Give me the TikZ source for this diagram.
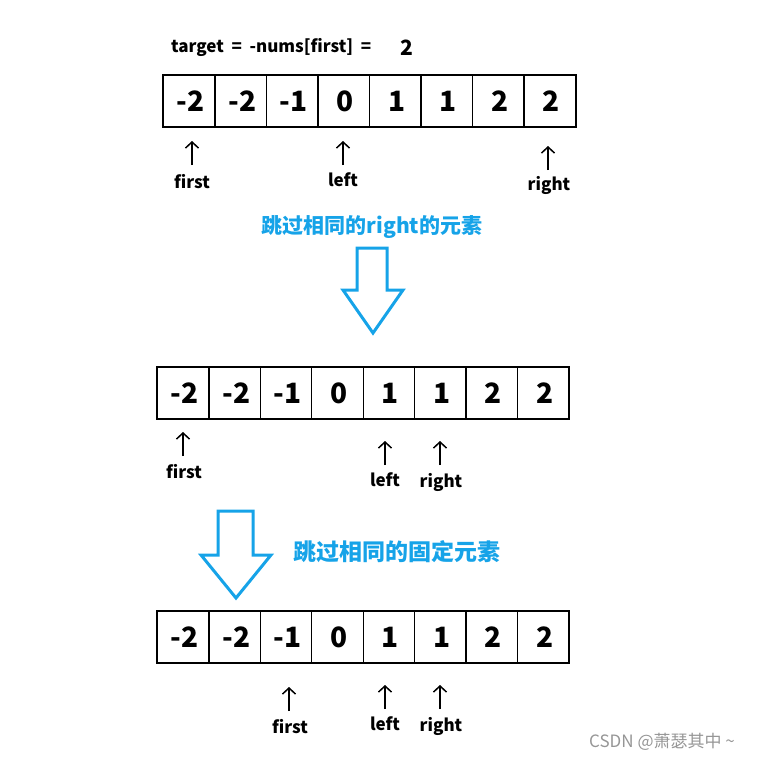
\documentclass[tikz,border=0pt]{standalone}
\usepackage{fontspec}
\setmainfont{Noto Sans CJK SC}
\usetikzlibrary{arrows.meta}
\definecolor{skyb}{RGB}{22,163,232}
\definecolor{wmgray}{RGB}{150,150,150}
\begin{document}
\begin{tikzpicture}[x=1pt,y=-1pt,
  cell/.style={draw,line width=1.2pt,minimum width=51.4pt,minimum height=51pt,inner sep=0pt,anchor=north west,font=\bfseries\fontsize{28}{28}\selectfont},
  frame/.style={draw,line width=2pt},
  ptr/.style={-{Straight Barb[length=6pt,width=13pt,line width=1.5pt]},line width=1.5pt},
  lbl/.style={font=\bfseries\fontsize{17}{17}\selectfont,inner sep=0pt},
  bigarrow/.style={draw=skyb,line width=3pt,line join=miter,fill=white},
  note/.style={text=skyb,inner sep=0pt}]
\useasboundingbox (0,0) rectangle (763,761);

% title
\node[anchor=west,font=\bfseries\fontsize{17}{17}\selectfont,inner sep=0pt] (title) at (171,47) {\spaceskip=0.45em target = -nums[first] =};
\node[font=\bfseries\fontsize{21}{21}\selectfont,inner sep=0pt] (tval) at (407,48) {2};

% array 1
\foreach \v [count=\i] in {-2,-2,-1,0,1,1,2,2}
  \node[cell] (a\i) at ({163+(\i-1)*51.5},75) {\hspace*{3pt}\v};
\draw[frame] (a1.north west) rectangle (a8.south east);

\coordinate (p1fb) at (192,165); \coordinate (p1ft) at (192,141);
\coordinate (p1lb) at (343,165); \coordinate (p1lt) at (343,141);
\coordinate (p1rb) at (548,170); \coordinate (p1rt) at (548,146);
\draw[ptr] (p1fb) -- (p1ft);
\draw[ptr] (p1lb) -- (p1lt);
\draw[ptr] (p1rb) -- (p1rt);
\node[lbl] (f1) at (192,182) {first};
\node[lbl] (l1) at (343,180) {left};
\node[lbl] (r1) at (549,185) {right};

% note 1 and big arrow 1
\node[note,font=\bfseries\fontsize{21}{21}\selectfont] (n1) at (372,227) {跳过相同的right的元素};
\draw[bigarrow] (357,248) -- (387,248) -- (387,290) -- (403,290) -- (373,333) -- (343,290) -- (357,290) -- cycle;

% array 2
\foreach \v [count=\i] in {-2,-2,-1,0,1,1,2,2}
  \node[cell] (b\i) at ({157+(\i-1)*51.4},367) {\hspace*{3pt}\v};
\draw[frame] (b1.north west) rectangle (b8.south east);

\coordinate (p2fb) at (183,456); \coordinate (p2ft) at (183,432);
\coordinate (p2lb) at (385,465); \coordinate (p2lt) at (385,441);
\coordinate (p2rb) at (440,465); \coordinate (p2rt) at (440,441);
\draw[ptr] (p2fb) -- (p2ft);
\draw[ptr] (p2lb) -- (p2lt);
\draw[ptr] (p2rb) -- (p2rt);
\node[lbl] (f2) at (184,472) {first};
\node[lbl] (l2) at (385,480) {left};
\node[lbl] (r2) at (441,482) {right};

% big arrow 2 and note 2
\draw[bigarrow] (218,511) -- (253,511) -- (253,555) -- (271,555) -- (236,598) -- (201,555) -- (218,555) -- cycle;
\node[note,font=\bfseries\fontsize{23}{23}\selectfont] (n2) at (397,552) {跳过相同的固定元素};

% array 3
\foreach \v [count=\i] in {-2,-2,-1,0,1,1,2,2}
  \node[cell] (c\i) at ({157+(\i-1)*51.4},611) {\hspace*{3pt}\v};
\draw[frame] (c1.north west) rectangle (c8.south east);

\coordinate (p3fb) at (289,711); \coordinate (p3ft) at (289,687);
\coordinate (p3lb) at (385,709); \coordinate (p3lt) at (385,685);
\coordinate (p3rb) at (440,709); \coordinate (p3rt) at (440,685);
\draw[ptr] (p3fb) -- (p3ft);
\draw[ptr] (p3lb) -- (p3lt);
\draw[ptr] (p3rb) -- (p3rt);
\node[lbl] (f3) at (290,727) {first};
\node[lbl] (l3) at (385,724) {left};
\node[lbl] (r3) at (441,726) {right};

% watermark
\node[text=wmgray,font=\fontsize{17}{17}\selectfont,inner sep=0pt] (wm) at (662,742) {CSDN @萧瑟其中 \textasciitilde};
\end{tikzpicture}
\end{document}
